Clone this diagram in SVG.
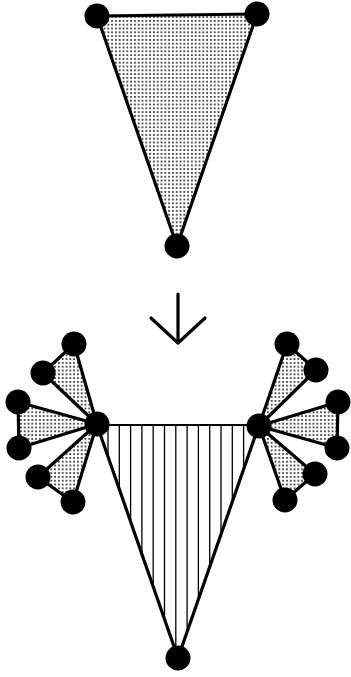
<svg xmlns="http://www.w3.org/2000/svg" width="351" height="677" viewBox="0 0 351 677">
<defs>
<pattern id="dots" width="3.8" height="3.8" patternUnits="userSpaceOnUse">
<circle cx="1.9" cy="1.9" r="0.85" fill="#000"/>
</pattern>
<clipPath id="bt"><polygon points="97,425 259,425 178,658"/></clipPath>
</defs>
<style>
.tri{fill:url(#dots);stroke:#000;stroke-width:3.2;stroke-linejoin:round}
.node{fill:#000}
.hatch{stroke:#000;stroke-width:1.3}
.edge{stroke:#000;fill:none;stroke-linecap:round;stroke-linejoin:round}
</style>
<rect width="351" height="677" fill="#fff"/>
<g id="top-triangle">
<polygon class="tri" points="97,16 257,14 177,246"/>
</g>
<g id="connectors">
<path class="edge" stroke-width="3.2" d="M178,294 V343 M151,318 L178,343 L205,318"/>
</g>
<g id="left-fan">
<polygon class="tri" points="97,424 74,344 43,373"/>
<polygon class="tri" points="97,424 18,402 19,448"/>
<polygon class="tri" points="97,424 38,477 73,502"/>
</g>
<g id="right-fan">
<polygon class="tri" points="259,426 287,344 316,370"/>
<polygon class="tri" points="259,426 338,402 337,448"/>
<polygon class="tri" points="259,426 315,474 285,500"/>
</g>
<g id="bottom-triangle">
<g clip-path="url(#bt)" class="hatch">
<line x1="108" y1="420" x2="108" y2="660"/>
<line x1="119.3" y1="420" x2="119.3" y2="660"/>
<line x1="130.6" y1="420" x2="130.6" y2="660"/>
<line x1="141.9" y1="420" x2="141.9" y2="660"/>
<line x1="153.2" y1="420" x2="153.2" y2="660"/>
<line x1="164.5" y1="420" x2="164.5" y2="660"/>
<line x1="175.8" y1="420" x2="175.8" y2="660"/>
<line x1="187.1" y1="420" x2="187.1" y2="660"/>
<line x1="198.4" y1="420" x2="198.4" y2="660"/>
<line x1="209.7" y1="420" x2="209.7" y2="660"/>
<line x1="221" y1="420" x2="221" y2="660"/>
<line x1="232.3" y1="420" x2="232.3" y2="660"/>
<line x1="243.6" y1="420" x2="243.6" y2="660"/>
</g>
<path class="edge" stroke-width="2" d="M97,425 H259"/>
<path class="edge" stroke-width="3.2" d="M97,425 L178,658 L259,425"/>
</g>
<g id="nodes">
<circle id="n-top-l" class="node" cx="97" cy="16" r="12.5"/>
<circle id="n-top-r" class="node" cx="257" cy="14" r="12.5"/>
<circle id="n-top-b" class="node" cx="177" cy="246" r="12.5"/>
<circle id="n-hub-l" class="node" cx="97" cy="424" r="12.5"/>
<circle id="n-hub-r" class="node" cx="259" cy="426" r="12.5"/>
<circle id="n-bot" class="node" cx="178" cy="658" r="12.5"/>
<circle id="n-la" class="node" cx="74" cy="344" r="12.5"/>
<circle id="n-lb" class="node" cx="43" cy="373" r="12.5"/>
<circle id="n-lc" class="node" cx="18" cy="402" r="12.5"/>
<circle id="n-ld" class="node" cx="19" cy="448" r="12.5"/>
<circle id="n-le" class="node" cx="38" cy="477" r="12.5"/>
<circle id="n-lf" class="node" cx="73" cy="502" r="12.5"/>
<circle id="n-ra" class="node" cx="287" cy="344" r="12.5"/>
<circle id="n-rb" class="node" cx="316" cy="370" r="12.5"/>
<circle id="n-rc" class="node" cx="338" cy="402" r="12.5"/>
<circle id="n-rd" class="node" cx="337" cy="448" r="12.5"/>
<circle id="n-re" class="node" cx="315" cy="474" r="12.5"/>
<circle id="n-rf" class="node" cx="285" cy="500" r="12.5"/>
</g>
</svg>
